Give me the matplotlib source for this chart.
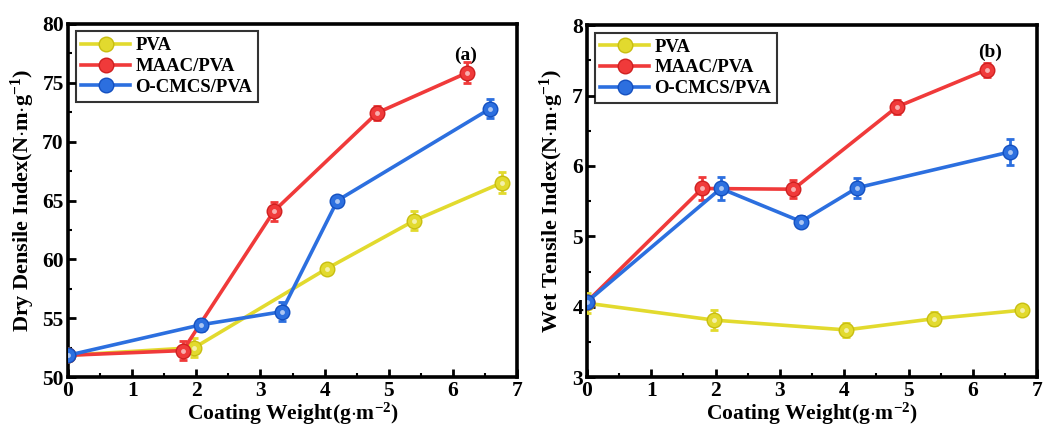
import matplotlib
matplotlib.use("Agg")
import matplotlib.pyplot as plt
from matplotlib.ticker import MultipleLocator, AutoMinorLocator

plt.rcParams['font.family'] = ['Liberation Serif', 'DejaVu Serif']
plt.rcParams['font.weight'] = 'bold'
plt.rcParams['mathtext.fontset'] = 'custom'
plt.rcParams['mathtext.rm'] = 'Liberation Serif:bold'
plt.rcParams['mathtext.bf'] = 'Liberation Serif:bold'
plt.rcParams['mathtext.it'] = 'Liberation Serif:bold:italic'

# ---- data ----
series_names = ["PVA", "MAAC/PVA", "O-CMCS/PVA"]
x_pva = [0, 1.97, 4.03, 5.40, 6.76]
x_maac = [0, 1.79, 3.21, 4.82, 6.22]
x_ocmcs = [0, 2.08, 3.33, 4.20, 6.58]

dry_pva = [51.85, 52.5, 59.2, 63.3, 66.5]
dry_pva_err = [0.2, 0.8, 0.25, 0.8, 0.9]
dry_maac = [51.85, 52.25, 64.1, 72.45, 75.85]
dry_maac_err = [0.2, 0.8, 0.8, 0.6, 0.9]
dry_ocmcs = [51.85, 54.45, 55.55, 65.0, 72.8]
dry_ocmcs_err = [0.2, 0.5, 0.8, 0.4, 0.8]

wet_pva = [4.05, 3.81, 3.67, 3.83, 3.95]
wet_pva_err = [0.14, 0.14, 0.10, 0.09, 0.05]
wet_maac = [4.07, 5.68, 5.67, 6.84, 7.37]
wet_maac_err = [0.05, 0.16, 0.13, 0.10, 0.10]
wet_ocmcs = [4.07, 5.68, 5.21, 5.69, 6.20]
wet_ocmcs_err = [0.05, 0.16, 0.08, 0.14, 0.18]

colors = ["#E2DA2E", "#F03A3A", "#2C6FDF"]
edge_colors = ["#C8BE10", "#D02020", "#1450C0"]

fig = plt.figure(figsize=(10.53, 4.28), dpi=100)
ax1 = fig.add_axes([0.0646, 0.1190, 0.4264, 0.825])
ax2 = fig.add_axes([0.5575, 0.1190, 0.4274, 0.822])


def draw(ax, xs, ys, errs, ylim, ymajor, yminor, ylabel, tag, tagxy):
    for i, (x, y, e) in enumerate(zip(xs, ys, errs)):
        ax.errorbar(x, y, yerr=e, color=colors[i], lw=2.6, capsize=3,
                    capthick=2, elinewidth=2, fmt='none', zorder=3 + i)
        ax.plot(x, y, color=colors[i], lw=2.6, marker='o', markersize=10.5,
                markerfacecolor=colors[i], markeredgecolor=edge_colors[i],
                markeredgewidth=1, label=series_names[i], zorder=3.2 + i)
        ax.plot(x, y, linestyle='none', marker='o', markersize=3.5,
                markerfacecolor='white', markeredgecolor='none', alpha=0.6,
                zorder=3.5 + i)
    ax.set_xlim(0, 7)
    ax.set_ylim(*ylim)
    ax.xaxis.set_major_locator(MultipleLocator(1))
    ax.yaxis.set_major_locator(MultipleLocator(ymajor))
    ax.xaxis.set_minor_locator(AutoMinorLocator(2))
    ax.yaxis.set_minor_locator(MultipleLocator(yminor))
    ax.tick_params(which='major', direction='in', length=6, width=2,
                   labelsize=15.5, pad=3)
    ax.tick_params(which='minor', direction='in', length=3, width=1.5)
    for lab in ax.get_xticklabels() + ax.get_yticklabels():
        lab.set_fontweight('bold')
    for sp in ax.spines.values():
        sp.set_linewidth(2.6)
    ax.set_xlabel(r'Coating Weight(g$\cdot$m$^{-2}$)', fontsize=15.5,
                  fontweight='bold', labelpad=0)
    ax.set_ylabel(ylabel, fontsize=16, fontweight='bold', labelpad=4)
    ax.text(tagxy[0], tagxy[1], tag, fontsize=14, fontweight='bold',
            ha='center', va='center')
    leg = ax.legend(loc='upper left', frameon=True, fancybox=False,
                    edgecolor='black', handlelength=2.6, handletextpad=0.3,
                    borderpad=0.3, labelspacing=0.2, borderaxespad=0.4,
                    prop={'weight': 'bold', 'size': 13.5})
    leg.get_frame().set_linewidth(1.5)


draw(ax1, [x_pva, x_maac, x_ocmcs], [dry_pva, dry_maac, dry_ocmcs],
     [dry_pva_err, dry_maac_err, dry_ocmcs_err], (50, 80), 5, 2.5,
     r'Dry Densile Index(N$\cdot$m$\cdot$g$^{-1}$)', '(a)', (6.2, 77.3))
draw(ax2, [x_pva, x_maac, x_ocmcs], [wet_pva, wet_maac, wet_ocmcs],
     [wet_pva_err, wet_maac_err, wet_ocmcs_err], (3, 8), 1, 0.5,
     r'Wet Tensile Index(N$\cdot$m$\cdot$g$^{-1}$)', '(b)', (6.27, 7.62))

fig.savefig("out.png", dpi=100)
